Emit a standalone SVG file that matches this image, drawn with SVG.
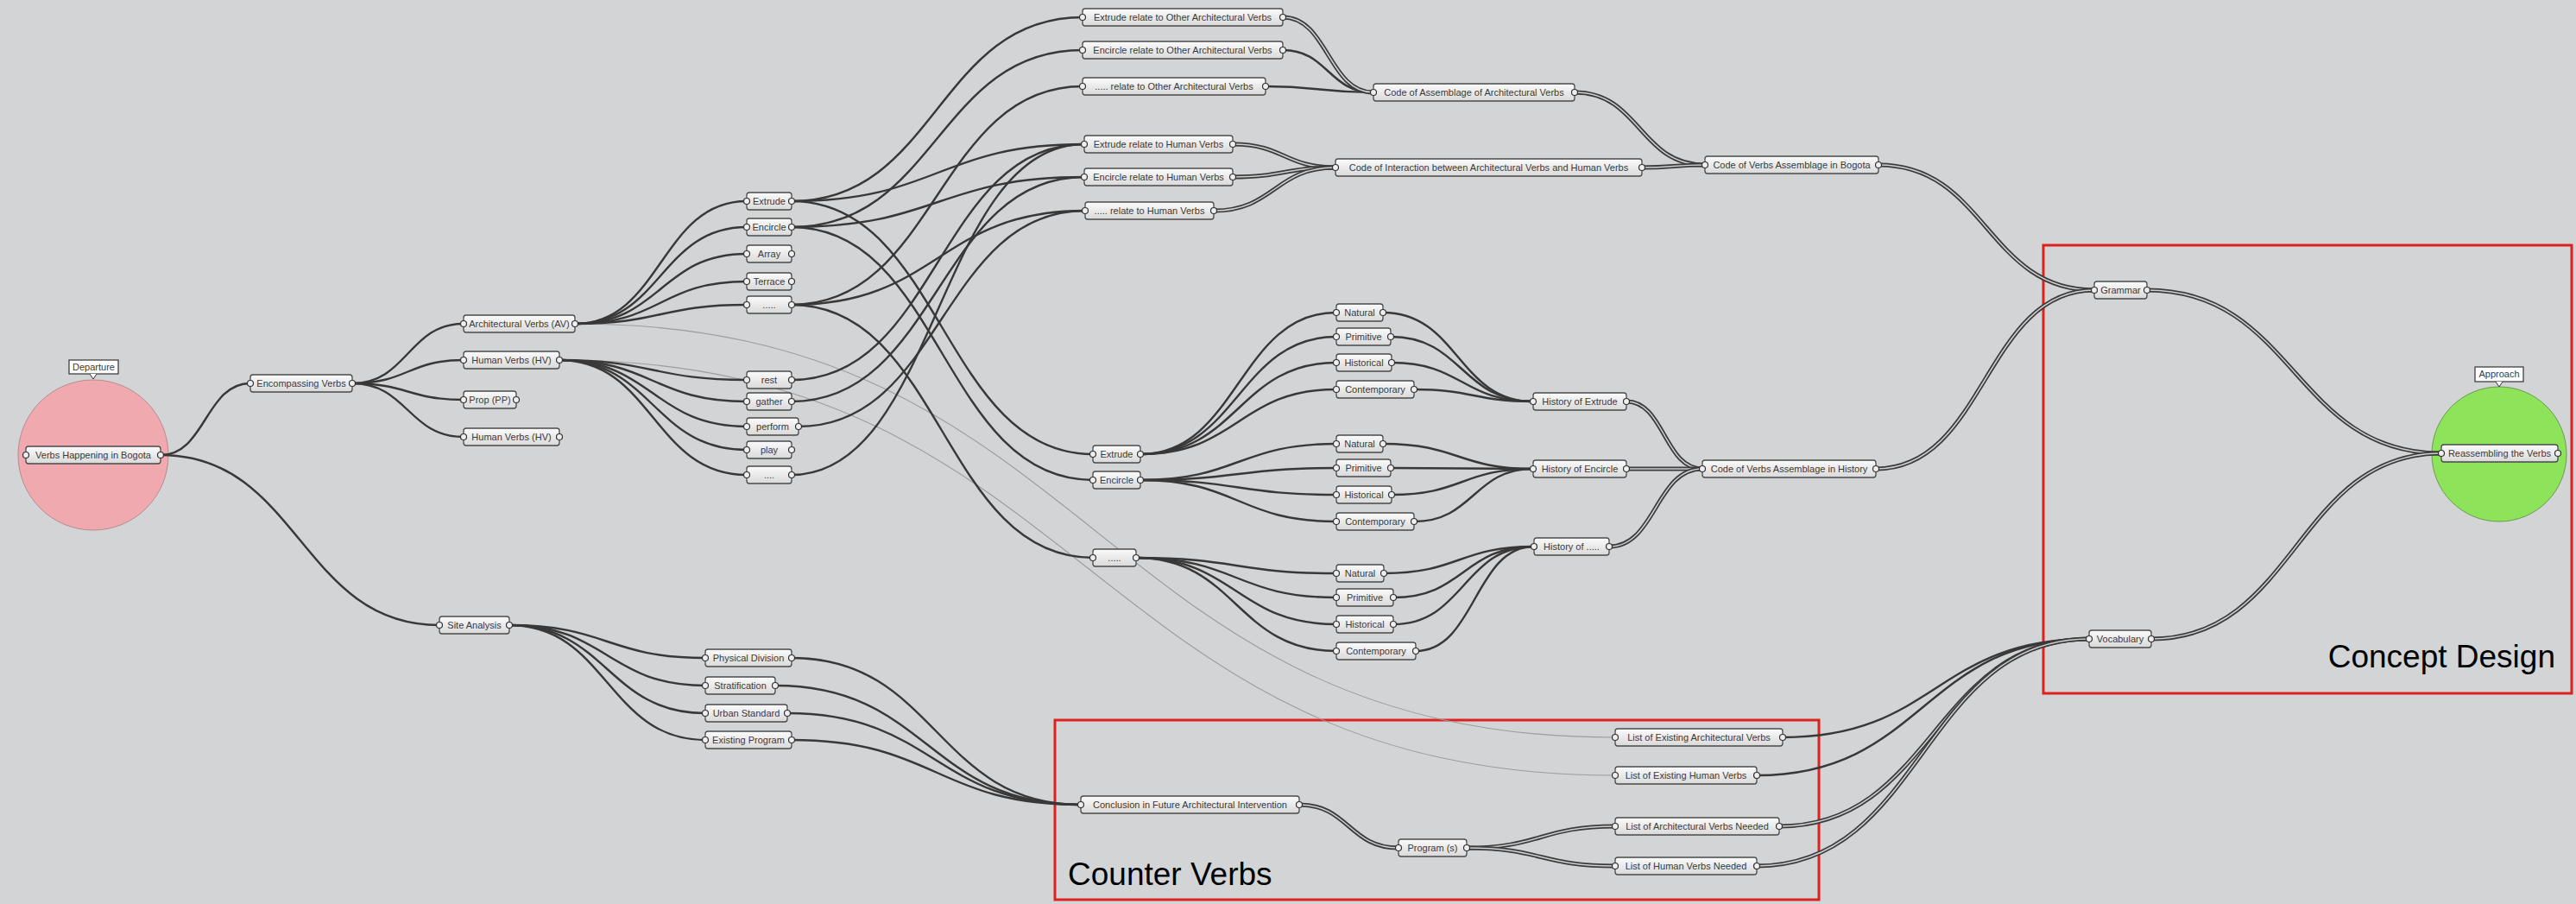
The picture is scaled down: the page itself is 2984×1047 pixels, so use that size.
<svg xmlns="http://www.w3.org/2000/svg" width="2984" height="1047" viewBox="0 0 2984 1047">
<defs>
<linearGradient id="ng" x1="0" y1="0" x2="0" y2="1">
<stop offset="0" stop-color="#fbfbfb"/><stop offset="1" stop-color="#d9d9d9"/>
</linearGradient>
<style>
.b{fill:url(#ng);stroke:#4a4a4a;stroke-width:1.3}
.p{fill:#efefef;stroke:#333;stroke-width:1.2}
.t{font-family:"Liberation Sans",Arial,sans-serif;font-size:11px;fill:#3a3a3a;text-anchor:middle}
.w{fill:none;stroke:#383838;stroke-width:2.4}
.do{fill:none;stroke:#3c3c3c;stroke-width:5}
.di{fill:none;stroke:#cfd0d2;stroke-width:1.5}
.f{fill:none;stroke:#9c9c9c;stroke-width:1.1}
.tag{fill:#fff;stroke:#333;stroke-width:1.2}
.red{fill:none;stroke:#e0201f;stroke-width:3}
.big{font-family:"Liberation Sans",Arial,sans-serif;font-size:37px;fill:#000}
</style>
</defs>
<rect x="0" y="0" width="2984" height="1047" fill="#d3d4d6"/>

<g id="frames">
<rect class="red" x="1222" y="834" width="885" height="208"/>
<rect class="red" x="2367" y="284" width="612" height="519"/>
<text class="big" x="1237" y="1025">Counter Verbs</text>
<text class="big" x="2960" y="773" text-anchor="end">Concept Design</text>
</g>

<g id="departure">
<circle cx="108" cy="527" r="87" fill="#f0a9ae" stroke="#b58c8e" stroke-width="1"/>
<rect class="tag" x="80" y="417" width="57" height="16"/>
<path d="M104,433 L108,439 L112,433" fill="#fff" stroke="#333" stroke-width="1"/>
<text class="t" x="108.5" y="429">Departure</text>
</g>
<g id="approach">
<circle cx="2895" cy="526" r="78" fill="#8de35a" stroke="#6a9a50" stroke-width="1"/>
<rect class="tag" x="2867" y="425" width="56" height="17"/>
<path d="M2891,442 L2895,448 L2899,442" fill="#fff" stroke="#333" stroke-width="1"/>
<text class="t" x="2895" y="437">Approach</text>
</g>

<g id="connectors">
<path class="f" d="M666,375 C1269,375 1268,854 1871,854"/>
<path class="f" d="M648,417 C1260,417 1259,898 1871,898"/>
<path class="w" d="M186,527 C238,527 238,444 290,444"/>
<path class="w" d="M186,527 C347,527 348,724 509,724"/>
<path class="w" d="M408,444 C472,444 473,375 537,375"/>
<path class="w" d="M408,444 C472,444 473,417 537,417"/>
<path class="w" d="M408,444 C472,444 473,463 537,463"/>
<path class="w" d="M408,444 C472,444 473,506 537,506"/>
<path class="w" d="M666,375 C766,375 765,233 865,233"/>
<path class="w" d="M666,375 C766,375 765,263 865,263"/>
<path class="w" d="M666,375 C766,375 765,294 865,294"/>
<path class="w" d="M666,375 C766,375 765,326 865,326"/>
<path class="w" d="M666,375 C766,375 765,353 865,353"/>
<path class="w" d="M648,417 C756,417 757,440 865,440"/>
<path class="w" d="M648,417 C756,417 757,465 865,465"/>
<path class="w" d="M648,417 C756,417 757,494 865,494"/>
<path class="w" d="M648,417 C756,417 757,521 865,521"/>
<path class="w" d="M648,417 C756,417 757,550 865,550"/>
<path class="w" d="M917,233 C1085,233 1086,20 1254,20"/>
<path class="w" d="M917,233 C1086,233 1087,167 1256,167"/>
<path class="w" d="M917,233 C1091,233 1092,526 1266,526"/>
<path class="w" d="M917,263 C1085,263 1086,58 1254,58"/>
<path class="w" d="M917,263 C1086,263 1087,205 1256,205"/>
<path class="w" d="M917,263 C1091,263 1092,556 1266,556"/>
<path class="w" d="M917,353 C1085,353 1086,100 1254,100"/>
<path class="w" d="M917,353 C1087,353 1087,244 1257,244"/>
<path class="w" d="M917,353 C1091,353 1092,646 1266,646"/>
<path class="w" d="M917,440 C1086,440 1087,167 1256,167"/>
<path class="w" d="M917,465 C1086,465 1087,205 1256,205"/>
<path class="w" d="M925,494 C1091,494 1091,244 1257,244"/>
<path class="w" d="M917,550 C1086,550 1087,167 1256,167"/>
<path class="w" d="M1486,58 C1538,58 1539,107 1591,107"/>
<path class="w" d="M1466,100 C1528,100 1529,107 1591,107"/>
<path class="w" d="M1321,526 C1434,526 1435,362 1548,362"/>
<path class="w" d="M1321,526 C1434,526 1435,390 1548,390"/>
<path class="w" d="M1321,526 C1434,526 1435,420 1548,420"/>
<path class="w" d="M1321,526 C1434,526 1435,451 1548,451"/>
<path class="w" d="M1321,556 C1434,556 1435,514 1548,514"/>
<path class="w" d="M1321,556 C1434,556 1435,542 1548,542"/>
<path class="w" d="M1321,556 C1434,556 1435,573 1548,573"/>
<path class="w" d="M1321,556 C1434,556 1435,604 1548,604"/>
<path class="w" d="M1316,646 C1432,646 1432,664 1548,664"/>
<path class="w" d="M1316,646 C1432,646 1432,692 1548,692"/>
<path class="w" d="M1316,646 C1432,646 1432,723 1548,723"/>
<path class="w" d="M1316,646 C1432,646 1432,754 1548,754"/>
<path class="w" d="M1602,362 C1689,362 1689,465 1776,465"/>
<path class="w" d="M1611,390 C1694,390 1693,465 1776,465"/>
<path class="w" d="M1612,420 C1694,420 1694,465 1776,465"/>
<path class="w" d="M1638,451 C1707,451 1707,465 1776,465"/>
<path class="w" d="M1602,514 C1689,514 1689,543 1776,543"/>
<path class="w" d="M1611,542 C1694,542 1693,543 1776,543"/>
<path class="w" d="M1612,573 C1694,573 1694,543 1776,543"/>
<path class="w" d="M1638,604 C1707,604 1707,543 1776,543"/>
<path class="w" d="M1603,664 C1690,664 1690,633 1777,633"/>
<path class="w" d="M1614,692 C1696,692 1695,633 1777,633"/>
<path class="w" d="M1614,723 C1696,723 1695,633 1777,633"/>
<path class="w" d="M1640,754 C1709,754 1708,633 1777,633"/>
<path class="w" d="M590,724 C703,724 704,762 817,762"/>
<path class="w" d="M590,724 C703,724 704,794 817,794"/>
<path class="w" d="M590,724 C703,724 704,826 817,826"/>
<path class="w" d="M590,724 C703,724 704,857 817,857"/>
<path class="w" d="M917,762 C1085,762 1084,932 1252,932"/>
<path class="w" d="M898,794 C1075,794 1075,932 1252,932"/>
<path class="w" d="M912,826 C1082,826 1082,932 1252,932"/>
<path class="w" d="M917,857 C1085,857 1084,932 1252,932"/>
<path class="w" d="M2065,854 C2243,854 2242,740 2420,740"/>
<path class="w" d="M2035,898 C2228,898 2227,740 2420,740"/>
<g id="double-wires">
<path class="do" d="M1486,20 C1538,20 1539,107 1591,107"/><path class="di" d="M1486,20 C1538,20 1539,107 1591,107"/>
<path class="do" d="M1428,167 C1487,167 1488,194 1547,194"/><path class="di" d="M1428,167 C1487,167 1488,194 1547,194"/>
<path class="do" d="M1428,205 C1487,205 1488,194 1547,194"/><path class="di" d="M1428,205 C1487,205 1488,194 1547,194"/>
<path class="do" d="M1406,244 C1476,244 1477,194 1547,194"/><path class="di" d="M1406,244 C1476,244 1477,194 1547,194"/>
<path class="do" d="M1824,107 C1900,107 1899,191 1975,191"/><path class="di" d="M1824,107 C1900,107 1899,191 1975,191"/>
<path class="do" d="M1902,194 C1938,194 1939,191 1975,191"/><path class="di" d="M1902,194 C1938,194 1939,191 1975,191"/>
<path class="do" d="M2176,191 C2301,191 2301,336 2426,336"/><path class="di" d="M2176,191 C2301,191 2301,336 2426,336"/>
<path class="do" d="M2173,543 C2300,543 2299,336 2426,336"/><path class="di" d="M2173,543 C2300,543 2299,336 2426,336"/>
<path class="do" d="M2487,336 C2658,336 2657,525 2828,525"/><path class="di" d="M2487,336 C2658,336 2657,525 2828,525"/>
<path class="do" d="M2492,740 C2660,740 2660,525 2828,525"/><path class="di" d="M2492,740 C2660,740 2660,525 2828,525"/>
<path class="do" d="M1884,465 C1928,465 1928,543 1972,543"/><path class="di" d="M1884,465 C1928,465 1928,543 1972,543"/>
<path class="do" d="M1884,543 L1972,543"/><path class="di" d="M1884,543 L1972,543"/>
<path class="do" d="M1864,633 C1918,633 1918,543 1972,543"/><path class="di" d="M1864,633 C1918,633 1918,543 1972,543"/>
<path class="do" d="M1505,932 C1562,932 1563,982 1620,982"/><path class="di" d="M1505,932 C1562,932 1563,982 1620,982"/>
<path class="do" d="M1699,982 C1785,982 1785,957 1871,957"/><path class="di" d="M1699,982 C1785,982 1785,957 1871,957"/>
<path class="do" d="M1699,982 C1785,982 1785,1003 1871,1003"/><path class="di" d="M1699,982 C1785,982 1785,1003 1871,1003"/>
<path class="do" d="M2061,957 C2240,957 2240,740 2420,740"/><path class="di" d="M2061,957 C2240,957 2240,740 2420,740"/>
<path class="do" d="M2035,1003 C2228,1003 2227,740 2420,740"/><path class="di" d="M2035,1003 C2228,1003 2227,740 2420,740"/>
</g>
</g>

<g id="nodes">
<g id="n-verbs-bogota"><rect class="b" x="30" y="517" width="156" height="20" rx="3"/><circle class="p" cx="30" cy="527" r="3.5"/><circle class="p" cx="186" cy="527" r="3.5"/><text class="t" x="108" y="531">Verbs Happening in Bogota</text></g>
<g id="n-encompassing"><rect class="b" x="290" y="434" width="118" height="20" rx="3"/><circle class="p" cx="290" cy="444" r="3.5"/><circle class="p" cx="408" cy="444" r="3.5"/><text class="t" x="349" y="448">Encompassing Verbs</text></g>
<g id="n-av"><rect class="b" x="537" y="365" width="129" height="20" rx="3"/><circle class="p" cx="537" cy="375" r="3.5"/><circle class="p" cx="666" cy="375" r="3.5"/><text class="t" x="601.5" y="379">Architectural Verbs (AV)</text></g>
<g id="n-hv"><rect class="b" x="537" y="407" width="111" height="20" rx="3"/><circle class="p" cx="537" cy="417" r="3.5"/><circle class="p" cx="648" cy="417" r="3.5"/><text class="t" x="592.5" y="421">Human Verbs (HV)</text></g>
<g id="n-prop"><rect class="b" x="537" y="453" width="61" height="20" rx="3"/><circle class="p" cx="537" cy="463" r="3.5"/><circle class="p" cx="598" cy="463" r="3.5"/><text class="t" x="567.5" y="467">Prop (PP)</text></g>
<g id="n-hv2"><rect class="b" x="537" y="496" width="111" height="20" rx="3"/><circle class="p" cx="537" cy="506" r="3.5"/><circle class="p" cx="648" cy="506" r="3.5"/><text class="t" x="592.5" y="510">Human Verbs (HV)</text></g>
<g id="n-extrude"><rect class="b" x="865" y="223" width="52" height="20" rx="3"/><circle class="p" cx="865" cy="233" r="3.5"/><circle class="p" cx="917" cy="233" r="3.5"/><text class="t" x="891" y="237">Extrude</text></g>
<g id="n-encircle"><rect class="b" x="865" y="253" width="52" height="20" rx="3"/><circle class="p" cx="865" cy="263" r="3.5"/><circle class="p" cx="917" cy="263" r="3.5"/><text class="t" x="891" y="267">Encircle</text></g>
<g id="n-array"><rect class="b" x="865" y="284" width="52" height="20" rx="3"/><circle class="p" cx="865" cy="294" r="3.5"/><circle class="p" cx="917" cy="294" r="3.5"/><text class="t" x="891" y="298">Array</text></g>
<g id="n-terrace"><rect class="b" x="865" y="316" width="52" height="20" rx="3"/><circle class="p" cx="865" cy="326" r="3.5"/><circle class="p" cx="917" cy="326" r="3.5"/><text class="t" x="891" y="330">Terrace</text></g>
<g id="n-av-more"><rect class="b" x="865" y="343" width="52" height="20" rx="3"/><circle class="p" cx="865" cy="353" r="3.5"/><circle class="p" cx="917" cy="353" r="3.5"/><text class="t" x="891" y="357">.....</text></g>
<g id="n-rest"><rect class="b" x="865" y="430" width="52" height="20" rx="3"/><circle class="p" cx="865" cy="440" r="3.5"/><circle class="p" cx="917" cy="440" r="3.5"/><text class="t" x="891" y="444">rest</text></g>
<g id="n-gather"><rect class="b" x="865" y="455" width="52" height="20" rx="3"/><circle class="p" cx="865" cy="465" r="3.5"/><circle class="p" cx="917" cy="465" r="3.5"/><text class="t" x="891" y="469">gather</text></g>
<g id="n-perform"><rect class="b" x="865" y="484" width="60" height="20" rx="3"/><circle class="p" cx="865" cy="494" r="3.5"/><circle class="p" cx="925" cy="494" r="3.5"/><text class="t" x="895" y="498">perform</text></g>
<g id="n-play"><rect class="b" x="865" y="511" width="52" height="20" rx="3"/><circle class="p" cx="865" cy="521" r="3.5"/><circle class="p" cx="917" cy="521" r="3.5"/><text class="t" x="891" y="525">play</text></g>
<g id="n-hv-more"><rect class="b" x="865" y="540" width="52" height="20" rx="3"/><circle class="p" cx="865" cy="550" r="3.5"/><circle class="p" cx="917" cy="550" r="3.5"/><text class="t" x="891" y="554">....</text></g>
<g id="n-ext-rel-av"><rect class="b" x="1254" y="10" width="232" height="20" rx="3"/><circle class="p" cx="1254" cy="20" r="3.5"/><circle class="p" cx="1486" cy="20" r="3.5"/><text class="t" x="1370" y="24">Extrude relate to Other Architectural Verbs</text></g>
<g id="n-enc-rel-av"><rect class="b" x="1254" y="48" width="232" height="20" rx="3"/><circle class="p" cx="1254" cy="58" r="3.5"/><circle class="p" cx="1486" cy="58" r="3.5"/><text class="t" x="1370" y="62">Encircle relate to Other Architectural Verbs</text></g>
<g id="n-more-rel-av"><rect class="b" x="1254" y="90" width="212" height="20" rx="3"/><circle class="p" cx="1254" cy="100" r="3.5"/><circle class="p" cx="1466" cy="100" r="3.5"/><text class="t" x="1360" y="104">..... relate to Other Architectural Verbs</text></g>
<g id="n-ext-rel-hv"><rect class="b" x="1256" y="157" width="172" height="20" rx="3"/><circle class="p" cx="1256" cy="167" r="3.5"/><circle class="p" cx="1428" cy="167" r="3.5"/><text class="t" x="1342" y="171">Extrude relate to Human Verbs</text></g>
<g id="n-enc-rel-hv"><rect class="b" x="1256" y="195" width="172" height="20" rx="3"/><circle class="p" cx="1256" cy="205" r="3.5"/><circle class="p" cx="1428" cy="205" r="3.5"/><text class="t" x="1342" y="209">Encircle relate to Human Verbs</text></g>
<g id="n-more-rel-hv"><rect class="b" x="1257" y="234" width="149" height="20" rx="3"/><circle class="p" cx="1257" cy="244" r="3.5"/><circle class="p" cx="1406" cy="244" r="3.5"/><text class="t" x="1331.5" y="248">..... relate to Human Verbs</text></g>
<g id="n-code-av"><rect class="b" x="1591" y="97" width="233" height="20" rx="3"/><circle class="p" cx="1591" cy="107" r="3.5"/><circle class="p" cx="1824" cy="107" r="3.5"/><text class="t" x="1707.5" y="111">Code of Assemblage of Architectural Verbs</text></g>
<g id="n-code-inter"><rect class="b" x="1547" y="184" width="355" height="20" rx="3"/><circle class="p" cx="1547" cy="194" r="3.5"/><circle class="p" cx="1902" cy="194" r="3.5"/><text class="t" x="1724.5" y="198">Code of Interaction between Architectural Verbs and Human Verbs</text></g>
<g id="n-code-bogota"><rect class="b" x="1975" y="181" width="201" height="20" rx="3"/><circle class="p" cx="1975" cy="191" r="3.5"/><circle class="p" cx="2176" cy="191" r="3.5"/><text class="t" x="2075.5" y="195">Code of Verbs Assemblage in Bogota</text></g>
<g id="n-extrude2"><rect class="b" x="1266" y="516" width="55" height="20" rx="3"/><circle class="p" cx="1266" cy="526" r="3.5"/><circle class="p" cx="1321" cy="526" r="3.5"/><text class="t" x="1293.5" y="530">Extrude</text></g>
<g id="n-encircle2"><rect class="b" x="1266" y="546" width="55" height="20" rx="3"/><circle class="p" cx="1266" cy="556" r="3.5"/><circle class="p" cx="1321" cy="556" r="3.5"/><text class="t" x="1293.5" y="560">Encircle</text></g>
<g id="n-more3"><rect class="b" x="1266" y="636" width="50" height="20" rx="3"/><circle class="p" cx="1266" cy="646" r="3.5"/><circle class="p" cx="1316" cy="646" r="3.5"/><text class="t" x="1291" y="650">.....</text></g>
<g id="n-natural1"><rect class="b" x="1548" y="352" width="54" height="20" rx="3"/><circle class="p" cx="1548" cy="362" r="3.5"/><circle class="p" cx="1602" cy="362" r="3.5"/><text class="t" x="1575" y="366">Natural</text></g>
<g id="n-primitive1"><rect class="b" x="1548" y="380" width="63" height="20" rx="3"/><circle class="p" cx="1548" cy="390" r="3.5"/><circle class="p" cx="1611" cy="390" r="3.5"/><text class="t" x="1579.5" y="394">Primitive</text></g>
<g id="n-historical1"><rect class="b" x="1548" y="410" width="64" height="20" rx="3"/><circle class="p" cx="1548" cy="420" r="3.5"/><circle class="p" cx="1612" cy="420" r="3.5"/><text class="t" x="1580" y="424">Historical</text></g>
<g id="n-contemporary1"><rect class="b" x="1548" y="441" width="90" height="20" rx="3"/><circle class="p" cx="1548" cy="451" r="3.5"/><circle class="p" cx="1638" cy="451" r="3.5"/><text class="t" x="1593" y="455">Contemporary</text></g>
<g id="n-natural2"><rect class="b" x="1548" y="504" width="54" height="20" rx="3"/><circle class="p" cx="1548" cy="514" r="3.5"/><circle class="p" cx="1602" cy="514" r="3.5"/><text class="t" x="1575" y="518">Natural</text></g>
<g id="n-primitive2"><rect class="b" x="1548" y="532" width="63" height="20" rx="3"/><circle class="p" cx="1548" cy="542" r="3.5"/><circle class="p" cx="1611" cy="542" r="3.5"/><text class="t" x="1579.5" y="546">Primitive</text></g>
<g id="n-historical2"><rect class="b" x="1548" y="563" width="64" height="20" rx="3"/><circle class="p" cx="1548" cy="573" r="3.5"/><circle class="p" cx="1612" cy="573" r="3.5"/><text class="t" x="1580" y="577">Historical</text></g>
<g id="n-contemporary2"><rect class="b" x="1548" y="594" width="90" height="20" rx="3"/><circle class="p" cx="1548" cy="604" r="3.5"/><circle class="p" cx="1638" cy="604" r="3.5"/><text class="t" x="1593" y="608">Contemporary</text></g>
<g id="n-natural3"><rect class="b" x="1548" y="654" width="55" height="20" rx="3"/><circle class="p" cx="1548" cy="664" r="3.5"/><circle class="p" cx="1603" cy="664" r="3.5"/><text class="t" x="1575.5" y="668">Natural</text></g>
<g id="n-primitive3"><rect class="b" x="1548" y="682" width="66" height="20" rx="3"/><circle class="p" cx="1548" cy="692" r="3.5"/><circle class="p" cx="1614" cy="692" r="3.5"/><text class="t" x="1581" y="696">Primitive</text></g>
<g id="n-historical3"><rect class="b" x="1548" y="713" width="66" height="20" rx="3"/><circle class="p" cx="1548" cy="723" r="3.5"/><circle class="p" cx="1614" cy="723" r="3.5"/><text class="t" x="1581" y="727">Historical</text></g>
<g id="n-contemporary3"><rect class="b" x="1548" y="744" width="92" height="20" rx="3"/><circle class="p" cx="1548" cy="754" r="3.5"/><circle class="p" cx="1640" cy="754" r="3.5"/><text class="t" x="1594" y="758">Contemporary</text></g>
<g id="n-hist-extrude"><rect class="b" x="1776" y="455" width="108" height="20" rx="3"/><circle class="p" cx="1776" cy="465" r="3.5"/><circle class="p" cx="1884" cy="465" r="3.5"/><text class="t" x="1830" y="469">History of Extrude</text></g>
<g id="n-hist-encircle"><rect class="b" x="1776" y="533" width="108" height="20" rx="3"/><circle class="p" cx="1776" cy="543" r="3.5"/><circle class="p" cx="1884" cy="543" r="3.5"/><text class="t" x="1830" y="547">History of Encircle</text></g>
<g id="n-hist-more"><rect class="b" x="1777" y="623" width="87" height="20" rx="3"/><circle class="p" cx="1777" cy="633" r="3.5"/><circle class="p" cx="1864" cy="633" r="3.5"/><text class="t" x="1820.5" y="637">History of .....</text></g>
<g id="n-code-history"><rect class="b" x="1972" y="533" width="201" height="20" rx="3"/><circle class="p" cx="1972" cy="543" r="3.5"/><circle class="p" cx="2173" cy="543" r="3.5"/><text class="t" x="2072.5" y="547">Code of Verbs Assemblage in History</text></g>
<g id="n-site"><rect class="b" x="509" y="714" width="81" height="20" rx="3"/><circle class="p" cx="509" cy="724" r="3.5"/><circle class="p" cx="590" cy="724" r="3.5"/><text class="t" x="549.5" y="728">Site Analysis</text></g>
<g id="n-physical"><rect class="b" x="817" y="752" width="100" height="20" rx="3"/><circle class="p" cx="817" cy="762" r="3.5"/><circle class="p" cx="917" cy="762" r="3.5"/><text class="t" x="867" y="766">Physical Division</text></g>
<g id="n-strat"><rect class="b" x="817" y="784" width="81" height="20" rx="3"/><circle class="p" cx="817" cy="794" r="3.5"/><circle class="p" cx="898" cy="794" r="3.5"/><text class="t" x="857.5" y="798">Stratification</text></g>
<g id="n-urban"><rect class="b" x="817" y="816" width="95" height="20" rx="3"/><circle class="p" cx="817" cy="826" r="3.5"/><circle class="p" cx="912" cy="826" r="3.5"/><text class="t" x="864.5" y="830">Urban Standard</text></g>
<g id="n-existing-prog"><rect class="b" x="817" y="847" width="100" height="20" rx="3"/><circle class="p" cx="817" cy="857" r="3.5"/><circle class="p" cx="917" cy="857" r="3.5"/><text class="t" x="867" y="861">Existing Program</text></g>
<g id="n-conclusion"><rect class="b" x="1252" y="922" width="253" height="20" rx="3"/><circle class="p" cx="1252" cy="932" r="3.5"/><circle class="p" cx="1505" cy="932" r="3.5"/><text class="t" x="1378.5" y="936">Conclusion in Future Architectural Intervention</text></g>
<g id="n-program"><rect class="b" x="1620" y="972" width="79" height="20" rx="3"/><circle class="p" cx="1620" cy="982" r="3.5"/><circle class="p" cx="1699" cy="982" r="3.5"/><text class="t" x="1659.5" y="986">Program (s)</text></g>
<g id="n-list-ex-av"><rect class="b" x="1871" y="844" width="194" height="20" rx="3"/><circle class="p" cx="1871" cy="854" r="3.5"/><circle class="p" cx="2065" cy="854" r="3.5"/><text class="t" x="1968" y="858">List of Existing Architectural Verbs</text></g>
<g id="n-list-ex-hv"><rect class="b" x="1871" y="888" width="164" height="20" rx="3"/><circle class="p" cx="1871" cy="898" r="3.5"/><circle class="p" cx="2035" cy="898" r="3.5"/><text class="t" x="1953" y="902">List of Existing Human Verbs</text></g>
<g id="n-list-need-av"><rect class="b" x="1871" y="947" width="190" height="20" rx="3"/><circle class="p" cx="1871" cy="957" r="3.5"/><circle class="p" cx="2061" cy="957" r="3.5"/><text class="t" x="1966" y="961">List of Architectural Verbs Needed</text></g>
<g id="n-list-need-hv"><rect class="b" x="1871" y="993" width="164" height="20" rx="3"/><circle class="p" cx="1871" cy="1003" r="3.5"/><circle class="p" cx="2035" cy="1003" r="3.5"/><text class="t" x="1953" y="1007">List of Human Verbs Needed</text></g>
<g id="n-grammar"><rect class="b" x="2426" y="326" width="61" height="20" rx="3"/><circle class="p" cx="2426" cy="336" r="3.5"/><circle class="p" cx="2487" cy="336" r="3.5"/><text class="t" x="2456.5" y="340">Grammar</text></g>
<g id="n-vocabulary"><rect class="b" x="2420" y="730" width="72" height="20" rx="3"/><circle class="p" cx="2420" cy="740" r="3.5"/><circle class="p" cx="2492" cy="740" r="3.5"/><text class="t" x="2456" y="744">Vocabulary</text></g>
<g id="n-reassembling"><rect class="b" x="2828" y="515" width="135" height="20" rx="3"/><circle class="p" cx="2828" cy="525" r="3.5"/><circle class="p" cx="2963" cy="525" r="3.5"/><text class="t" x="2895.5" y="529">Reassembling the Verbs</text></g>
</g>
</svg>
